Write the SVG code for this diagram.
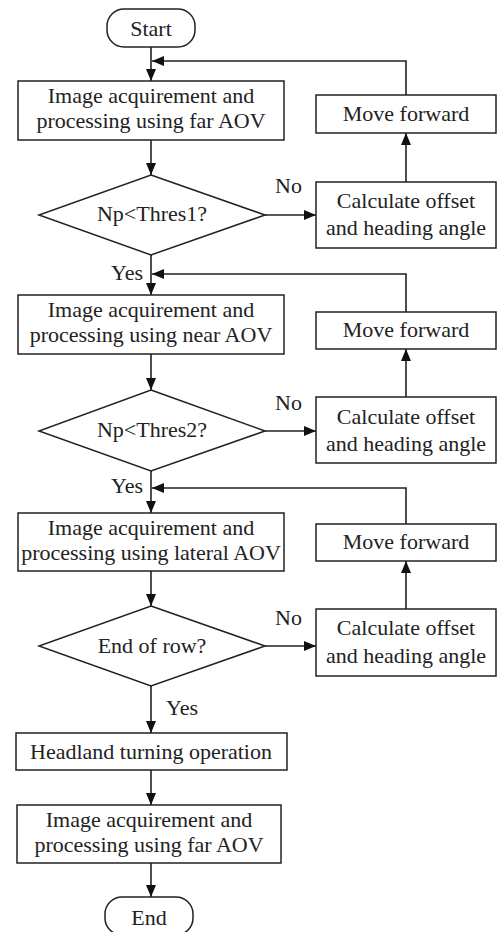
<svg xmlns="http://www.w3.org/2000/svg" width="498" height="932" viewBox="0 0 498 932">
<style>
.n{fill:#fff;stroke:#222;stroke-width:1.5}
.t{font-family:"Liberation Serif","Times New Roman",serif;font-size:22px;fill:#222;text-anchor:middle}
.l{font-family:"Liberation Serif","Times New Roman",serif;font-size:22px;fill:#222}
.c{fill:none;stroke:#222;stroke-width:1.6}
</style>
<defs>
<marker id="ah" markerWidth="12" markerHeight="10" refX="12" refY="5" orient="auto" markerUnits="userSpaceOnUse">
<path d="M0,0 L12,5 L0,10 Z" fill="#111"/>
</marker>
</defs>
<rect width="498" height="932" fill="#fff"/>
<g id="connectors">
<path class="c" d="M151,47 V81" marker-end="url(#ah)"/>
<path class="c" d="M406,95 V61 H152" marker-end="url(#ah)"/>
<path class="c" d="M151,140 V175" marker-end="url(#ah)"/>
<path class="c" d="M265,215 H316" marker-end="url(#ah)"/>
<path class="c" d="M406,182 V133" marker-end="url(#ah)"/>
<path class="c" d="M151,255 V295" marker-end="url(#ah)"/>
<path class="c" d="M406,312 V274 H152" marker-end="url(#ah)"/>
<path class="c" d="M151,354 V390" marker-end="url(#ah)"/>
<path class="c" d="M265,431 H316" marker-end="url(#ah)"/>
<path class="c" d="M406,397 V349" marker-end="url(#ah)"/>
<path class="c" d="M151,471 V513" marker-end="url(#ah)"/>
<path class="c" d="M406,524 V488 H152" marker-end="url(#ah)"/>
<path class="c" d="M151,571 V606" marker-end="url(#ah)"/>
<path class="c" d="M265,646 H316" marker-end="url(#ah)"/>
<path class="c" d="M406,609 V561" marker-end="url(#ah)"/>
<path class="c" d="M151,686 V733" marker-end="url(#ah)"/>
<path class="c" d="M151,770 V805" marker-end="url(#ah)"/>
<path class="c" d="M151,863 V897" marker-end="url(#ah)"/>
<text class="l" x="275" y="193">No</text>
<text class="l" x="275" y="410">No</text>
<text class="l" x="275" y="625">No</text>
<text class="l" x="143" y="280" text-anchor="end">Yes</text>
<text class="l" x="143" y="493" text-anchor="end">Yes</text>
<text class="l" x="166" y="715">Yes</text>
</g>
<g id="start"><rect class="n" x="107" y="9" width="88" height="38" rx="17"/><text class="t" x="151" y="36">Start</text></g>
<g id="box1"><rect class="n" x="18" y="81" width="266" height="59"/><text class="t" x="151" y="103">Image acquirement and</text><text class="t" x="151" y="128">processing using far AOV</text></g>
<g id="move1"><rect class="n" x="316" y="95" width="180" height="38"/><text class="t" x="406" y="121">Move forward</text></g>
<g id="dec1"><polygon class="n" points="151,175 265,215 151,255 39,215"/><text class="t" x="152" y="221">Np&lt;Thres1?</text></g>
<g id="calc1"><rect class="n" x="316" y="182" width="180" height="66"/><text class="t" x="406" y="208">Calculate offset</text><text class="t" x="406" y="235">and heading angle</text></g>
<g id="box2"><rect class="n" x="18" y="295" width="266" height="59"/><text class="t" x="151" y="317">Image acquirement and</text><text class="t" x="151" y="342">processing using near AOV</text></g>
<g id="move2"><rect class="n" x="316" y="312" width="180" height="37"/><text class="t" x="406" y="337">Move forward</text></g>
<g id="dec2"><polygon class="n" points="151,390 265,431 151,471 39,431"/><text class="t" x="152" y="437">Np&lt;Thres2?</text></g>
<g id="calc2"><rect class="n" x="316" y="397" width="180" height="66"/><text class="t" x="406" y="424">Calculate offset</text><text class="t" x="406" y="451">and heading angle</text></g>
<g id="box3"><rect class="n" x="18" y="513" width="266" height="58"/><text class="t" x="151" y="535">Image acquirement and</text><text class="t" x="151" y="560">processing using lateral AOV</text></g>
<g id="move3"><rect class="n" x="316" y="524" width="180" height="37"/><text class="t" x="406" y="549">Move forward</text></g>
<g id="dec3"><polygon class="n" points="151,606 265,646 151,686 39,646"/><text class="t" x="152" y="653">End of row?</text></g>
<g id="calc3"><rect class="n" x="316" y="609" width="180" height="67"/><text class="t" x="406" y="635">Calculate offset</text><text class="t" x="406" y="663">and heading angle</text></g>
<g id="box4"><rect class="n" x="16" y="733" width="271" height="37"/><text class="t" x="151" y="759">Headland turning operation</text></g>
<g id="box5"><rect class="n" x="17" y="805" width="264" height="58"/><text class="t" x="149" y="827">Image acquirement and</text><text class="t" x="149" y="852">processing using far AOV</text></g>
<g id="end"><rect class="n" x="105" y="897" width="88" height="38" rx="17"/><text class="t" x="149" y="925">End</text></g>
</svg>
